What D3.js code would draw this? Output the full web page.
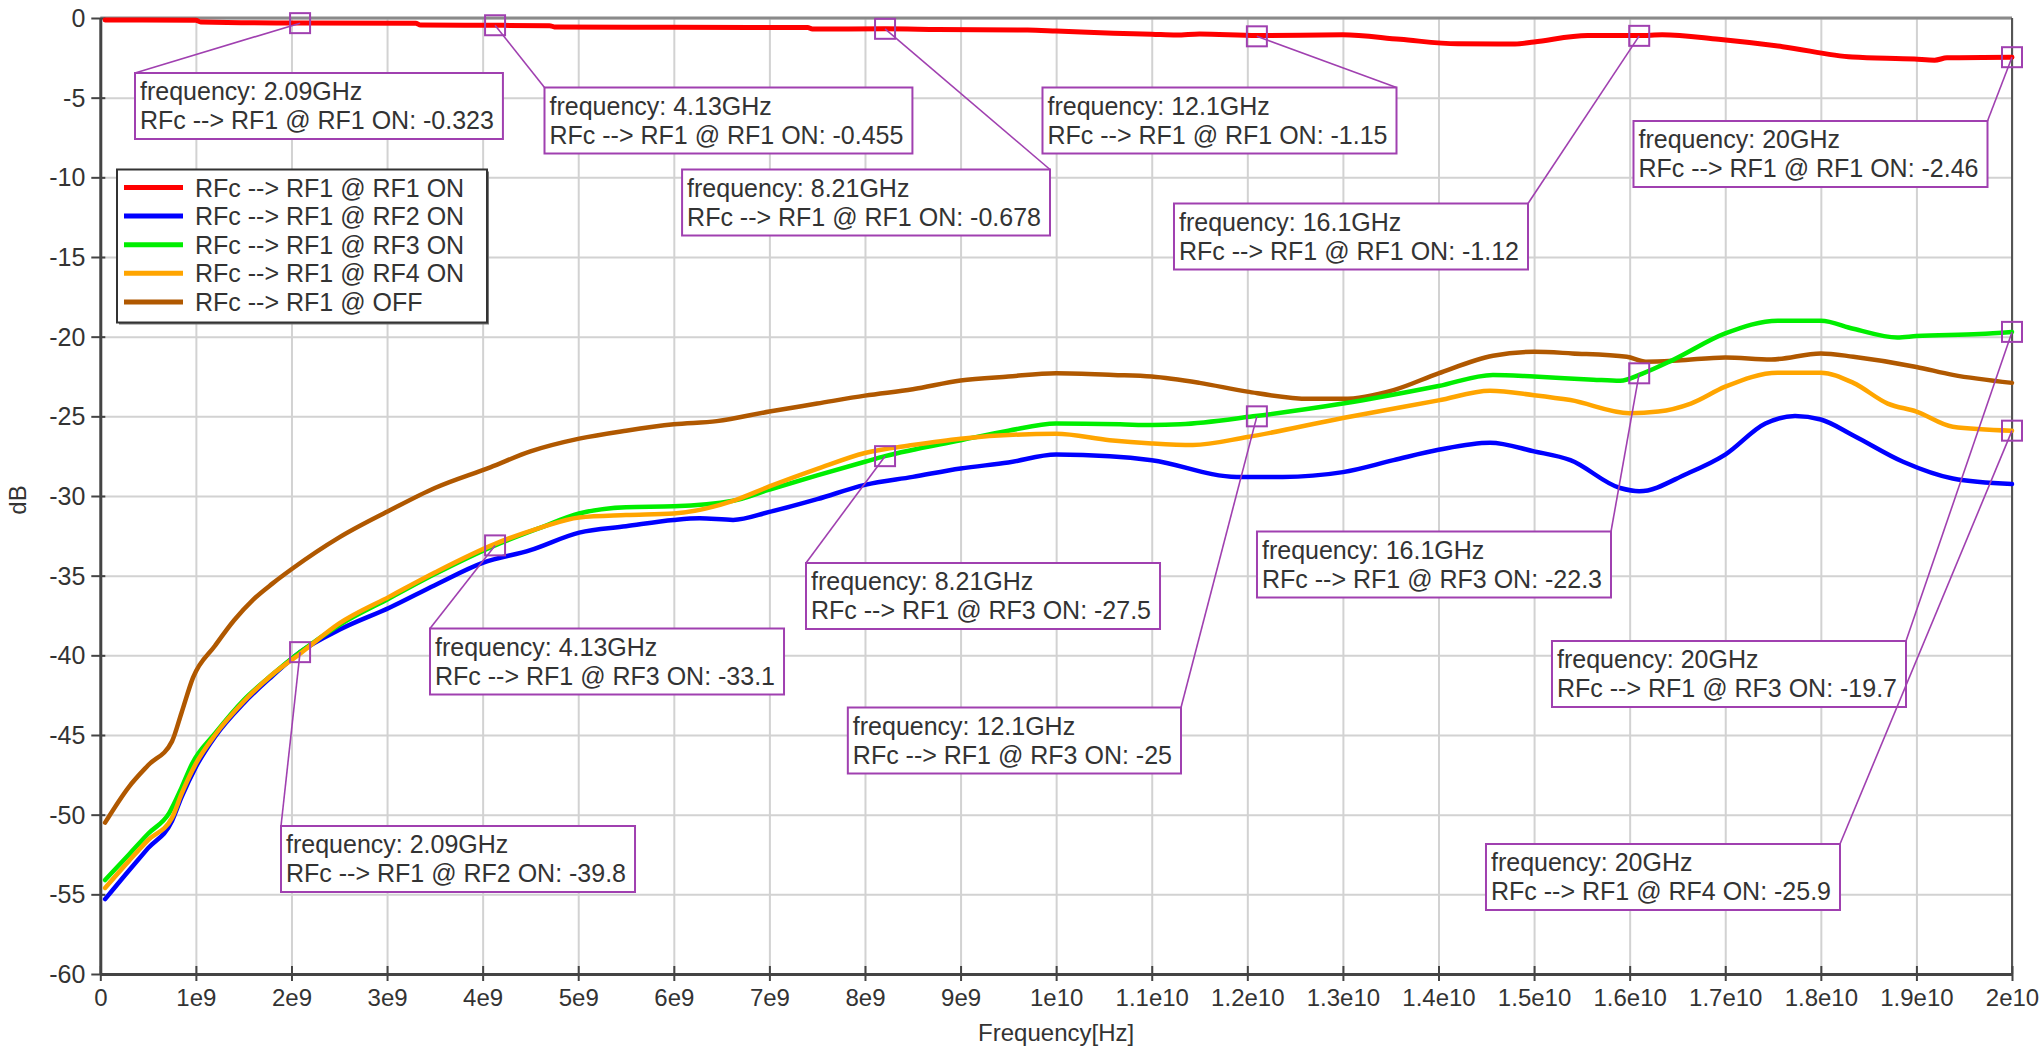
<!DOCTYPE html>
<html>
<head>
<meta charset="utf-8">
<script src="https://cdn.jsdelivr.net/npm/d3@7"></script>
<style>
  html, body { margin: 0; padding: 0; background: #fff; }
  svg { display: block; font-family: "Liberation Sans", Arial, sans-serif; }
</style>
</head>
<body>
<svg id="chart" width="2039" height="1046"></svg>
<script>
// ---------------- DATA (frequency in GHz, value in dB) ----------------
const seriesNames = ["RFc --> RF1 @ RF1 ON", "RFc --> RF1 @ RF2 ON", "RFc --> RF1 @ RF3 ON", "RFc --> RF1 @ RF4 ON", "RFc --> RF1 @ OFF"];

const rf1On = [[0.05,-0.12],[1.0,-0.14],[1.05,-0.25],[2.09,-0.32],[3.3,-0.33],[3.35,-0.44],[4.13,-0.46],[4.7,-0.48],[4.75,-0.56],[6.0,-0.58],[7.4,-0.6],[7.45,-0.69],[8.21,-0.68],[8.76,-0.72],[9.7,-0.76],[10.0,-0.82],[10.6,-0.96],[11.0,-1.02],[11.26,-1.07],[11.5,-1.0],[12.1,-1.1],[13.0,-1.05],[13.6,-1.34],[14.2,-1.62],[14.8,-1.63],[15.0,-1.5],[15.56,-1.1],[16.1,-1.1],[16.34,-1.05],[16.93,-1.34],[17.6,-1.8],[18.33,-2.45],[18.98,-2.58],[19.19,-2.65],[19.32,-2.5],[20.0,-2.46]];

const rf2On = [[0.05,-55.3],[0.3,-53.5],[0.5,-52.1],[0.75,-50.4],[0.85,-48.9],[1.0,-47.0],[1.2,-45.1],[1.5,-43.0],[1.8,-41.3],[2.09,-39.8],[2.5,-38.4],[3.03,-37.0],[3.5,-35.6],[4.0,-34.2],[4.5,-33.4],[5.01,-32.3],[5.5,-31.9],[6.0,-31.5],[6.27,-31.4],[6.62,-31.5],[7.0,-31.0],[7.5,-30.2],[8.0,-29.3],[8.5,-28.8],[9.0,-28.27],[9.5,-27.9],[10.0,-27.4],[10.56,-27.5],[11.0,-27.75],[11.89,-28.8],[12.37,-28.8],[13.0,-28.5],[13.53,-27.75],[14.0,-27.1],[14.54,-26.66],[15.0,-27.2],[15.38,-27.75],[15.9,-29.5],[16.1,-29.7],[16.6,-28.6],[17.0,-27.4],[17.42,-25.45],[17.73,-24.98],[18.0,-25.2],[18.34,-26.2],[18.86,-27.85],[19.38,-28.9],[20.0,-29.25]];

const rf3On = [[0.05,-54.1],[0.3,-52.5],[0.5,-51.2],[0.72,-49.9],[0.85,-48.3],[0.96,-46.8],[1.2,-44.9],[1.5,-42.8],[1.8,-41.2],[2.09,-39.8],[2.5,-38.1],[3.03,-36.4],[3.5,-34.9],[4.13,-33.1],[4.6,-32.0],[5.01,-31.1],[5.5,-30.7],[6.0,-30.65],[6.62,-30.3],[7.0,-29.6],[7.5,-28.7],[8.0,-27.85],[8.21,-27.5],[9.0,-26.5],[9.5,-25.9],[10.0,-25.45],[10.67,-25.5],[11.0,-25.55],[11.3,-25.5],[12.06,-25.0],[13.0,-24.2],[14.0,-23.1],[14.57,-22.4],[15.0,-22.5],[15.62,-22.7],[15.9,-22.77],[16.14,-22.3],[16.45,-21.47],[17.0,-19.8],[17.55,-19.0],[18.0,-19.0],[18.34,-19.5],[18.8,-20.05],[19.0,-19.96],[19.66,-19.84],[20.0,-19.7]];

const rf4On = [[0.05,-54.6],[0.3,-52.9],[0.5,-51.6],[0.75,-50.2],[0.85,-48.7],[1.0,-46.8],[1.2,-45.0],[1.5,-42.9],[1.8,-41.2],[2.09,-39.9],[2.5,-38.0],[3.03,-36.3],[3.5,-34.8],[4.13,-33.0],[4.6,-32.0],[5.01,-31.35],[5.5,-31.2],[6.0,-31.1],[6.62,-30.3],[7.0,-29.4],[7.5,-28.3],[8.0,-27.3],[8.5,-26.8],[9.0,-26.4],[10.0,-26.1],[10.56,-26.5],[11.0,-26.7],[11.43,-26.8],[12.0,-26.3],[13.0,-25.1],[14.0,-24.0],[14.54,-23.4],[15.0,-23.67],[15.38,-23.98],[16.0,-24.8],[16.3,-24.7],[16.64,-24.2],[17.0,-23.14],[17.55,-22.26],[18.0,-22.26],[18.34,-22.9],[18.7,-24.2],[19.0,-24.7],[19.38,-25.65],[20.0,-25.9]];

const allOff = [[0.05,-50.5],[0.3,-48.25],[0.5,-46.9],[0.75,-45.4],[0.85,-43.6],[0.97,-41.4],[1.2,-39.4],[1.4,-37.8],[1.6,-36.5],[1.8,-35.5],[2.0,-34.6],[2.5,-32.6],[3.03,-30.9],[3.5,-29.5],[4.08,-28.2],[4.5,-27.2],[5.01,-26.4],[5.5,-25.9],[6.0,-25.5],[6.45,-25.3],[7.0,-24.7],[7.5,-24.2],[8.0,-23.7],[8.5,-23.3],[9.0,-22.75],[9.5,-22.5],[10.0,-22.3],[10.6,-22.4],[11.0,-22.5],[11.5,-22.9],[12.0,-23.45],[12.65,-23.9],[13.0,-23.9],[13.53,-23.35],[14.0,-22.3],[14.57,-21.2],[15.0,-20.95],[15.4,-21.05],[15.97,-21.26],[16.17,-21.57],[16.5,-21.5],[17.0,-21.3],[17.48,-21.43],[18.0,-21.05],[18.34,-21.26],[19.0,-21.9],[19.38,-22.4],[20.0,-22.9]];

// x tick values (Hz) and labels; y tick values (dB) and labels
const xTickValues = [0,1e9,2e9,3e9,4e9,5e9,6e9,7e9,8e9,9e9,1e10,1.1e10,1.2e10,1.3e10,1.4e10,1.5e10,1.6e10,1.7e10,1.8e10,1.9e10,2e10];
const xTickLabels = ["0","1e9","2e9","3e9","4e9","5e9","6e9","7e9","8e9","9e9","1e10","1.1e10","1.2e10","1.3e10","1.4e10","1.5e10","1.6e10","1.7e10","1.8e10","1.9e10","2e10"];
const yTickValues = [0,-5,-10,-15,-20,-25,-30,-35,-40,-45,-50,-55,-60];
const yTickLabels = ["0","-5","-10","-15","-20","-25","-30","-35","-40","-45","-50","-55","-60"];

// marker annotations: series index, frequency (GHz), value, labels
const markerSeries = [0,0,0,0,0,0,2,2,2,2,2,1,3];
const markerFreqs  = [2.09,4.13,8.21,12.1,16.1,20.0,4.13,8.21,12.1,16.1,20.0,2.09,20.0];
const markerValues = [-0.323,-0.455,-0.678,-1.15,-1.12,-2.46,-33.1,-27.5,-25,-22.3,-19.7,-39.8,-25.9];
const markerFreqLabels = ["2.09GHz","4.13GHz","8.21GHz","12.1GHz","16.1GHz","20GHz","4.13GHz","8.21GHz","12.1GHz","16.1GHz","20GHz","2.09GHz","20GHz"];
const markerValueLabels = ["-0.323","-0.455","-0.678","-1.15","-1.12","-2.46","-33.1","-27.5","-25","-22.3","-19.7","-39.8","-25.9"];

// ---------------- LAYOUT / STYLE ----------------
const W = 2039, H = 1046;
const plot = {left: 100.3, right: 2012, top: 18, bottom: 974};
const colors = ["#ff0000", "#0000ff", "#00ee00", "#ffa500", "#b05800"];
const purple = "#a040b0";
const textColor = "#333333";
// annotation box anchor: which corner the leader attaches to, x of that corner, top y
const boxAnchor = ["left","left","right","right","right","right","left","left","right","right","right","left","right"];
const boxX = [135,544.5,1050,1396.5,1528,1987.5,430,806,1181,1611,1906,281,1840];
const boxY = [73,87.5,169.5,87.5,203.5,121,628.5,563,707.5,531.5,641,826,844];

const svg = d3.select("#chart");
svg.append("rect").attr("width", W).attr("height", H).attr("fill", "#fff");

const x = d3.scaleLinear().domain([0, 2e10]).range([plot.left, plot.right]);
const y = d3.scaleLinear().domain([-60, 0]).range([plot.bottom, plot.top]);

// gridlines
const grid = svg.append("g");
grid.append("g").attr("transform", `translate(0,${plot.bottom})`)
  .call(d3.axisBottom(x).tickValues(xTickValues).tickFormat("").tickSize(-(plot.bottom - plot.top)))
  .call(g => g.select(".domain").remove())
  .call(g => g.selectAll("line").attr("stroke", "#d2d2d2").attr("stroke-width", 2));
grid.append("g").attr("transform", `translate(${plot.left},0)`)
  .call(d3.axisLeft(y).tickValues(yTickValues).tickFormat("").tickSize(-(plot.right - plot.left)))
  .call(g => g.select(".domain").remove())
  .call(g => g.selectAll("line").attr("stroke", "#d2d2d2").attr("stroke-width", 2));

// frame
svg.append("line").attr("x1", plot.left).attr("x2", plot.right).attr("y1", plot.top).attr("y2", plot.top)
  .attr("stroke", "#8a8a8a").attr("stroke-width", 3);
svg.append("line").attr("x1", plot.right).attr("x2", plot.right).attr("y1", plot.top).attr("y2", plot.bottom)
  .attr("stroke", "#555").attr("stroke-width", 2);

// axes
const xAxis = svg.append("g").attr("transform", `translate(0,${plot.bottom})`)
  .call(d3.axisBottom(x).tickValues(xTickValues).tickFormat((d, i) => xTickLabels[i]).tickSizeOuter(0));
xAxis.select(".domain").attr("stroke", "#444").attr("stroke-width", 3);
xAxis.selectAll(".tick line").attr("y1", -8).attr("y2", 7).attr("stroke", "#444").attr("stroke-width", 2);
xAxis.selectAll(".tick text").attr("y", 32).attr("dy", 0).attr("fill", textColor)
  .style("font-size", "24px").style("font-family", '"Liberation Sans", Arial, sans-serif');

const yAxis = svg.append("g").attr("transform", `translate(${plot.left},0)`)
  .call(d3.axisLeft(y).tickValues(yTickValues).tickFormat((d, i) => yTickLabels[i]).tickSizeOuter(0));
yAxis.select(".domain").attr("stroke", "#444").attr("stroke-width", 3);
yAxis.selectAll(".tick line").attr("x1", -9).attr("x2", 5).attr("stroke", "#444").attr("stroke-width", 2);
yAxis.selectAll(".tick text").attr("x", -15).attr("dy", "0.34em").attr("fill", textColor)
  .style("font-size", "25px").style("font-family", '"Liberation Sans", Arial, sans-serif');

// axis titles
svg.append("text").attr("x", (plot.left + plot.right) / 2).attr("y", 1041).attr("text-anchor", "middle")
  .attr("fill", textColor).style("font-size", "24px").text("Frequency[Hz]");
svg.append("text").attr("transform", "translate(26,500) rotate(-90)").attr("text-anchor", "middle")
  .attr("fill", textColor).style("font-size", "24px").text("dB");

// series lines
const allSeries = [rf1On, rf2On, rf3On, rf4On, allOff];
const line = d3.line().x(d => x(d[0] * 1e9)).y(d => y(d[1])).curve(d3.curveMonotoneX);
const drawOrder = [4, 1, 2, 3, 0];
const linesG = svg.append("g");
drawOrder.forEach(i => {
  linesG.append("path").datum(allSeries[i]).attr("d", line)
    .attr("fill", "none").attr("stroke", colors[i]).attr("stroke-width", i === 0 ? 5 : 4.5)
    .attr("stroke-linejoin", "round").attr("stroke-linecap", "round");
});

// annotations
const annG = svg.append("g");
const boxH = 66;
markerFreqs.forEach((f, i) => {
  const mx = x(f * 1e9), my = y(markerValues[i]);
  const line1 = "frequency: " + markerFreqLabels[i];
  const line2 = seriesNames[markerSeries[i]] + ": " + markerValueLabels[i];
  const g = annG.append("g");
  const leader = g.append("line").attr("x1", mx).attr("y1", my).attr("stroke", purple).attr("stroke-width", 1.6);
  const box = g.append("rect").attr("y", boxY[i]).attr("height", boxH)
    .attr("fill", "#fff").attr("stroke", purple).attr("stroke-width", 2);
  const t1 = g.append("text").attr("y", boxY[i] + 27).attr("fill", textColor).style("font-size", "25px").text(line1);
  const t2 = g.append("text").attr("y", boxY[i] + 56).attr("fill", textColor).style("font-size", "25px").text(line2);
  const tw = Math.max(t1.node().getComputedTextLength(), t2.node().getComputedTextLength());
  const bw = tw + 14;
  const left = boxAnchor[i] === "left" ? boxX[i] : boxX[i] - bw;
  box.attr("x", left).attr("width", bw);
  t1.attr("x", left + 5); t2.attr("x", left + 5);
  leader.attr("x2", boxAnchor[i] === "left" ? left : left + bw).attr("y2", boxY[i]);
  g.append("rect").attr("x", mx - 10).attr("y", my - 10).attr("width", 20).attr("height", 20)
    .attr("fill", "none").attr("stroke", purple).attr("stroke-width", 2);
});

// legend
const leg = svg.append("g");
const legBox = {x: 117, y: 169.5, w: 370, h: 153};
leg.append("rect").attr("x", legBox.x + 2).attr("y", legBox.y + 2).attr("width", legBox.w).attr("height", legBox.h)
  .attr("fill", "#777");
leg.append("rect").attr("x", legBox.x).attr("y", legBox.y).attr("width", legBox.w).attr("height", legBox.h)
  .attr("fill", "#fff").attr("stroke", "#333").attr("stroke-width", 2);
seriesNames.forEach((name, i) => {
  const cy = legBox.y + 18 + i * 28.6;
  leg.append("line").attr("x1", 124).attr("x2", 183).attr("y1", cy).attr("y2", cy)
    .attr("stroke", colors[i]).attr("stroke-width", 5);
  leg.append("text").attr("x", 195).attr("y", cy + 9).attr("fill", textColor).style("font-size", "25px").text(name);
});
</script>
</body>
</html>
